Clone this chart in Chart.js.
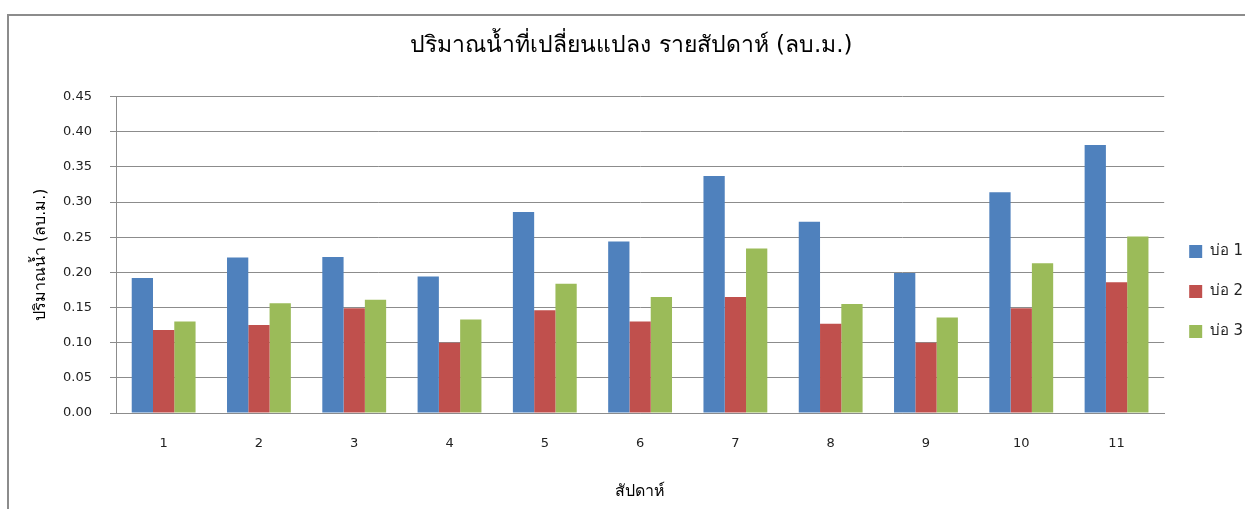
<!DOCTYPE html>
<html>
<head>
<meta charset="utf-8">
<script src="https://cdn.jsdelivr.net/npm/chart.js@4/dist/chart.umd.min.js"></script>
<style>
  body { margin: 0; background: #fff; }
  #wrap { position: relative; width: 1245px; height: 509px; }
</style>
</head>
<body>
<div id="wrap"><canvas id="myChart"></canvas></div>
<script>
const weeks = ['1', '2', '3', '4', '5', '6', '7', '8', '9', '10', '11'];
const pond1 = [0.192, 0.221, 0.222, 0.194, 0.286, 0.244, 0.337, 0.272, 0.199, 0.314, 0.381];
const pond2 = [0.118, 0.125, 0.149, 0.100, 0.146, 0.130, 0.165, 0.127, 0.100, 0.149, 0.186];
const pond3 = [0.130, 0.156, 0.161, 0.133, 0.184, 0.165, 0.234, 0.155, 0.136, 0.213, 0.251];
const seriesNames = ['บ่อ 1', 'บ่อ 2', 'บ่อ 3'];

const fontFam = "Tahoma, 'DejaVu Sans', 'Noto Sans', sans-serif";
const gridColor = '#8c8c8c';

// กรอบของแผนภูมิ (เส้นบนและซ้าย)
const framePlugin = {
    id: 'frame',
    beforeDraw(chart) {
        const c = chart.ctx;
        c.save();
        c.strokeStyle = '#8c8c8c';
        c.lineWidth = 2;
        c.beginPath();
        c.moveTo(8, 509);
        c.lineTo(8, 15);
        c.lineTo(1245, 15);
        c.stroke();
        c.restore();
    }
};

const data = {
    labels: weeks,
    datasets: [
        { label: seriesNames[0], data: pond1, backgroundColor: '#4F81BD' },
        { label: seriesNames[1], data: pond2, backgroundColor: '#C0504D' },
        { label: seriesNames[2], data: pond3, backgroundColor: '#9BBB59' }
    ]
};

const options = {
    responsive: true,
    maintainAspectRatio: false,
    animation: false,
    categoryPercentage: 0.67,
    barPercentage: 1.0,
    layout: { padding: { left: 10, right: -8, top: 0, bottom: 0 } },
    plugins: {
        title: {
            display: true,
            text: 'ปริมาณน้ำที่เปลี่ยนแปลง รายสัปดาห์ (ลบ.ม.)',
            color: '#000',
            font: { family: fontFam, size: 23, weight: 'normal' },
            padding: { top: 32, bottom: 37 }
        },
        legend: {
            position: 'right',
            title: {
                display: true,
                text: '',
                font: { size: 14 },
                padding: { top: 29, bottom: 28 }
            },
            labels: {
                color: '#222',
                font: { family: fontFam, size: 15 },
                boxWidth: 13,
                boxHeight: 13,
                padding: 25
            }
        },
        tooltip: { enabled: false }
    },
    scales: {
        x: {
            grid: { display: false, drawTicks: false },
            border: { color: gridColor, width: 1 },
            ticks: { color: '#222', font: { family: fontFam, size: 13 }, padding: 23 },
            title: {
                display: true,
                text: 'สัปดาห์',
                color: '#000',
                font: { family: fontFam, size: 16 },
                padding: { top: 0, bottom: 8 }
            },
            afterFit(scale) { scale.height = 96; }
        },
        y: {
            min: 0,
            max: 0.45,
            grid: { color: gridColor, tickLength: 6 },
            border: { color: gridColor, width: 1 },
            ticks: {
                stepSize: 0.05,
                color: '#222',
                font: { family: fontFam, size: 13 },
                padding: 18,
                callback: (v) => Number(v).toFixed(2)
            },
            title: {
                display: true,
                text: 'ปริมาณน้ำ (ลบ.ม.)',
                color: '#000',
                font: { family: fontFam, size: 16 },
                padding: { top: 21, bottom: 0 }
            },
            afterFit(scale) { scale.width = 106; }
        }
    }
};

const ctx = document.getElementById('myChart').getContext('2d');
const myChart = new Chart(ctx, {
    type: 'bar',
    data: data,
    options: options,
    plugins: [framePlugin]
});
</script>
</body>
</html>
